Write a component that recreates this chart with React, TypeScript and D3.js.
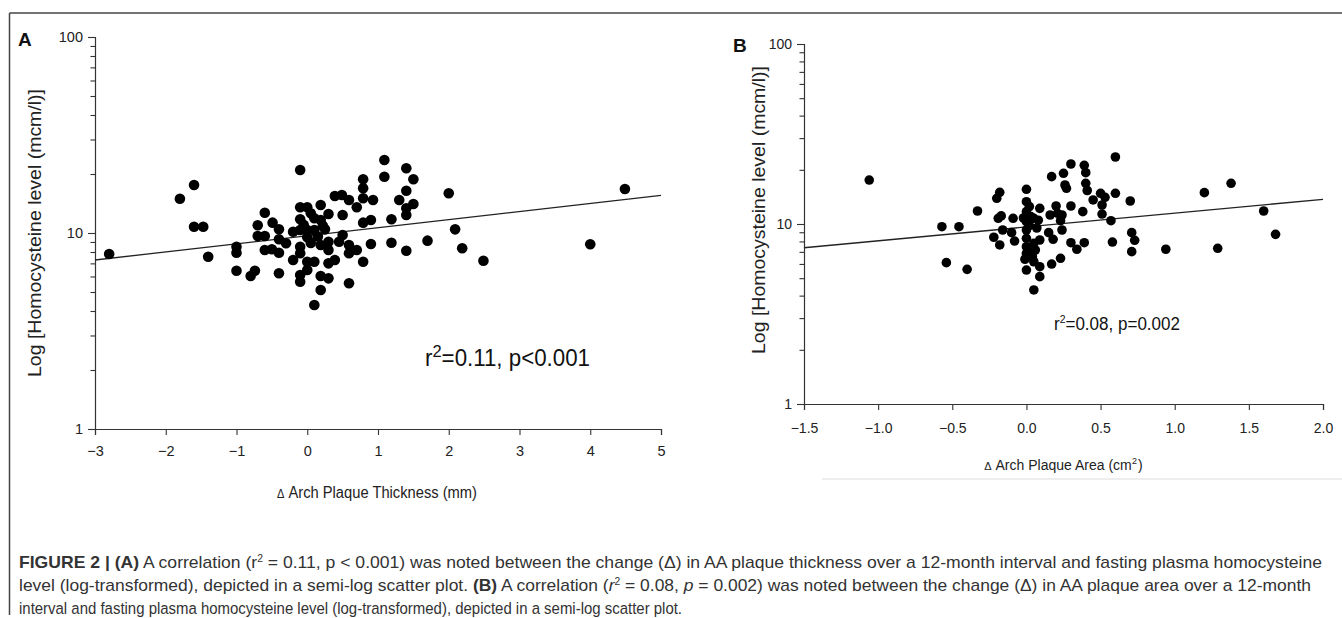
import React, { useEffect, useRef } from 'react';
import * as d3 from 'd3';

// Panel A: change in arch plaque thickness (mm) vs homocysteine (mcm/l)
const thicknessX = [
  -2.8, -1.8, -1.6, -1.6, -1.47, -1.4, -1.0, -1.0, -1.0, -0.8, -0.74, -0.7, -0.7, -0.6, -0.6, -0.6,
  -0.49, -0.5, -0.4, -0.4, -0.4, -0.4, -0.3, -0.2, -0.2, -0.1, -0.1, -0.1, -0.1, -0.1, -0.1, -0.1,
  -0.1, 0.0, 0.0, 0.0, 0.0, 0.0, 0.1, 0.1, 0.1, 0.1, 0.19, 0.19, 0.19, 0.19, 0.19, 0.25, 0.3, 0.3,
  0.3, 0.3, 0.3, 0.39, 0.39, 0.49, 0.5, 0.5, 0.45, 0.59, 0.59, 0.59, 0.59, 0.7, 0.7, 0.79, 0.79,
  0.79, 0.79, 0.79, 0.9, 0.9, 0.93, 1.09, 1.09, 1.4, 1.5, 1.4, 1.3, 1.5, 1.4, 1.4, 1.19, 2.0, 2.09,
  1.19, 1.4, 1.7, 2.19, 2.49, 4.0, 4.49, 0.05, 0.05, 0.15, -0.05, 0.22,
];
const thicknessY = [
  7.81, 14.96, 17.58, 10.77, 10.77, 7.57, 8.51, 7.93, 6.42, 6.03, 6.42, 10.95, 9.65, 12.69, 9.65, 8.19,
  11.29, 8.26, 10.44, 9.29, 7.93, 6.23, 8.86, 10.15, 7.28, 20.96, 13.53, 11.75, 10.36, 8.51, 7.88, 6.11,
  5.64, 13.53, 10.36, 9.51, 7.14, 6.47, 11.89, 10.36, 7.14, 4.29, 13.89, 11.65, 8.68, 6.03, 5.12, 10.44, 12.5, 9.03,
  8.19, 7.0, 5.87, 15.44, 7.28, 15.63, 12.36, 9.77, 9.03, 14.73, 8.68, 7.88, 5.54, 13.53, 8.19, 18.79, 16.91,
  15.03, 11.29, 7.14, 11.65, 8.79, 14.73, 23.58, 19.38, 21.38, 18.79, 16.44, 14.73, 14.06, 13.37, 12.36, 11.75, 15.94, 10.44,
  8.92, 8.12, 9.14, 8.36, 7.22, 8.76, 16.77, 12.6, 8.9, 9.6, 11.0, 10.9,
];
// fitted line: log10(y) = a + b * x
const thicknessFit = { a: 0.986, b: 0.04125 };

// Panel B: change in arch plaque area (cm2) vs homocysteine (mcm/l)
const areaX = [
  -1.06, -0.57, -0.455, -0.54, -0.4, -0.33, -0.2, -0.18, -0.19, -0.17, -0.16, -0.22, -0.18, -0.1, -0.09, -0.08,
  0.0, 0.0, 0.0, 0.0, 0.0, 0.0, 0.0, 0.0, -0.01, 0.0, 0.05, 0.05, 0.05, 0.05, 0.09, 0.09, 0.09, 0.09, 0.06,
  0.15, 0.17, 0.16, 0.18, 0.17, 0.23, 0.24, 0.24, 0.23, 0.25, 0.26, 0.27, 0.3, 0.3, 0.3, 0.34, 0.38, 0.39,
  0.4, 0.4, 0.41, 0.39, 0.45, 0.5, 0.53, 0.51, 0.51, 0.57, 0.58, 0.6, 0.6, 0.7, 0.71, 0.73, 0.71, 0.94,
  1.2, 1.29, 1.38, 1.6, 1.68, 0.2, 0.21, 0.02, 0.03, 0.07, 0.02, 0.04, 0.08, 0.02, -0.02,
];
const areaY = [
  17.55, 9.66, 9.66, 6.1, 5.6, 11.81, 13.89, 15.0, 10.76, 11.09, 9.26, 8.44, 7.65, 8.95, 10.76, 8.04,
  15.59, 13.3, 11.71, 10.3, 9.26, 8.33, 7.48, 6.87, 6.37, 5.55, 4.3, 10.76, 7.81, 6.17, 12.22, 8.15, 5.79, 5.1, 7.17,
  8.95, 18.32, 11.22, 8.22, 5.99, 6.45, 9.26, 11.22, 10.43, 19.13, 16.47, 15.79, 21.54, 12.59, 7.87, 7.24, 11.71, 21.18,
  19.28, 16.83, 15.35, 7.87, 13.6, 14.81, 14.07, 12.75, 11.36, 10.43, 7.94, 23.56, 14.81, 13.42, 8.95, 8.12, 7.02, 7.24,
  14.93, 7.33, 16.83, 11.81, 8.76, 12.59, 11.47, 9.8, 11.0, 9.5, 7.0, 6.6, 10.5, 12.5, 10.8,
];
const areaFit = { a: 0.9834, b: 0.0769 };

const thicknessTicks = [-3, -2, -1, 0, 1, 2, 3, 4, 5];
const areaTicks = [-1.5, -1.0, -0.5, 0.0, 0.5, 1.0, 1.5, 2.0];
const logTicks = [1, 2, 3, 4, 5, 6, 7, 8, 9, 10, 20, 30, 40, 50, 60, 70, 80, 90, 100];
const majorLog = [1, 10, 100];

const AXIS_FONT = 'Arial, "Liberation Sans", sans-serif';

function drawPanel(root, opt) {
  const { xs, ys, fit, ticks, xDom, xRange, yRange, r, fs, fmt } = opt;
  const x = d3.scaleLinear().domain(xDom).range(xRange);
  const y = d3.scaleLog().domain([1, 100]).range(yRange);
  const g = root.append('g');

  const yAx = g.append('g')
    .attr('transform', `translate(${xRange[0]},0)`)
    .call(d3.axisLeft(y).tickValues(logTicks).tickSizeOuter(0).tickSize(7).tickPadding(5)
      .tickFormat(d => (majorLog.includes(d) ? String(d) : '')));
  yAx.selectAll('.tick line').filter(d => !majorLog.includes(d)).attr('x2', -4.5);

  const xAx = g.append('g')
    .attr('transform', `translate(0,${yRange[0]})`)
    .call(d3.axisBottom(x).tickValues(ticks).tickSizeOuter(0).tickSize(6).tickPadding(opt.xPad)
      .tickFormat(fmt));

  [yAx, xAx].forEach(ax => {
    ax.select('.domain').attr('stroke', '#333').attr('stroke-width', 1.2);
    ax.selectAll('.tick line').attr('stroke', '#333').attr('stroke-width', 1.1);
    ax.selectAll('text').attr('font-family', AXIS_FONT).attr('font-size', fs).attr('fill', '#222');
  });

  const line = d3.line().x(d => x(d)).y(d => y(Math.pow(10, fit.a + fit.b * d)));
  g.append('path')
    .attr('d', line(xDom))
    .attr('fill', 'none')
    .attr('stroke', '#222')
    .attr('stroke-width', 1.3);

  g.append('g').selectAll('circle')
    .data(xs.map((v, i) => [v, ys[i]]))
    .enter()
    .append('circle')
    .attr('cx', d => x(d[0]))
    .attr('cy', d => y(d[1]))
    .attr('r', r)
    .attr('fill', '#000');
}

const App = () => {
  const plotRef = useRef(null);

  useEffect(() => {
    const root = d3.select(plotRef.current);
    root.selectAll('*').remove();

    drawPanel(root, {
      xs: thicknessX, ys: thicknessY, fit: thicknessFit, ticks: thicknessTicks,
      xDom: [-3, 5], xRange: [95, 661], yRange: [429, 37], r: 5.3, fs: 14.5, xPad: 11,
      fmt: d3.format('d'),
    });
    drawPanel(root, {
      xs: areaX, ys: areaY, fit: areaFit, ticks: areaTicks,
      xDom: [-1.5, 2], xRange: [804, 1323], yRange: [404, 44], r: 4.8, fs: 14, xPad: 13,
      fmt: d3.format('.1f'),
    });
  }, []);

  return (
    <svg width={1342} height={618} style={{ position: 'absolute', left: 0, top: 0, background: '#fff' }}>
      {/* frame */}
      <line x1={9.5} y1={13} x2={1342} y2={13} stroke="#444" strokeWidth={1.5} />
      <line x1={9.5} y1={13} x2={9.5} y2={615} stroke="#444" strokeWidth={1.5} />

      <text x={18} y={46} fontFamily={AXIS_FONT} fontWeight="bold" fontSize={19} fill="#111">A</text>
      <text x={733} y={52} fontFamily={AXIS_FONT} fontWeight="bold" fontSize={19} fill="#111">B</text>

      <g ref={plotRef} />

      {/* axis titles */}
      <text transform="translate(41,233) rotate(-90)" textAnchor="middle" fontFamily={AXIS_FONT} fontSize={19} fill="#222"
        textLength={288} lengthAdjust="spacingAndGlyphs">
        Log [Homocysteine level (mcm/l)]
      </text>
      <text transform="translate(765,210) rotate(-90)" textAnchor="middle" fontFamily={AXIS_FONT} fontSize={18.5} fill="#222"
        textLength={288} lengthAdjust="spacingAndGlyphs">
        Log [Homocysteine level (mcm/l)]
      </text>
      <text x={377} y={498} textAnchor="middle" fontFamily={AXIS_FONT} fontSize={16} fill="#222"
        textLength={200} lengthAdjust="spacingAndGlyphs">
        <tspan fontSize={12}>Δ</tspan> Arch Plaque Thickness (mm)
      </text>
      <text x={1058} y={470} textAnchor="middle" fontFamily={AXIS_FONT} fontSize={14} fill="#222">
        <tspan fontSize={11}>Δ</tspan> Arch Plaque Area (cm
      </text>
      <text x={1132} y={464} fontFamily={AXIS_FONT} fontSize={9} fill="#222">2</text>
      <text x={1138} y={470} fontFamily={AXIS_FONT} fontSize={14} fill="#222">)</text>
      <line x1={822} y1={479} x2={1342} y2={479} stroke="#ddd" strokeWidth={1} />

      {/* statistics */}
      <text x={425} y={366} fontFamily={AXIS_FONT} fontSize={23} fill="#111" textLength={165} lengthAdjust="spacingAndGlyphs">
        r<tspan fontSize={17} dy={-9}>2</tspan><tspan dy={9}>=0.11, p&lt;0.001</tspan>
      </text>
      <text x={1054} y={330} fontFamily={AXIS_FONT} fontSize={18} fill="#111" textLength={126} lengthAdjust="spacingAndGlyphs">
        r<tspan fontSize={11} dy={-7}>2</tspan><tspan dy={7}>=0.08, p=0.002</tspan>
      </text>

      {/* caption */}
      <g fontFamily={AXIS_FONT} fontSize={17} fill="#333">
        <text x={19} y={568} textLength={1303} lengthAdjust="spacingAndGlyphs">
          <tspan fontWeight="bold">FIGURE 2 | (A)</tspan> A correlation (r<tspan fontSize={10} dy={-6}>2</tspan>
          <tspan dy={6}> = 0.11, p &lt; 0.001) was noted between the change (Δ) in AA plaque thickness over a 12-month interval and fasting plasma homocysteine</tspan>
        </text>
        <text x={19} y={591} textLength={1292} lengthAdjust="spacingAndGlyphs">
          level (log-transformed), depicted in a semi-log scatter plot. <tspan fontWeight="bold">(B)</tspan> A correlation (<tspan fontStyle="italic">r</tspan>
          <tspan fontSize={10} dy={-6}>2</tspan><tspan dy={6}> = 0.08, </tspan><tspan fontStyle="italic">p</tspan> = 0.002) was noted between the change (Δ) in AA plaque area over a 12-month
        </text>
        <text transform="translate(19,614) scale(0.88,1)">
          interval and fasting plasma homocysteine level (log-transformed), depicted in a semi-log scatter plot.
        </text>
      </g>
    </svg>
  );
};

export default App;
